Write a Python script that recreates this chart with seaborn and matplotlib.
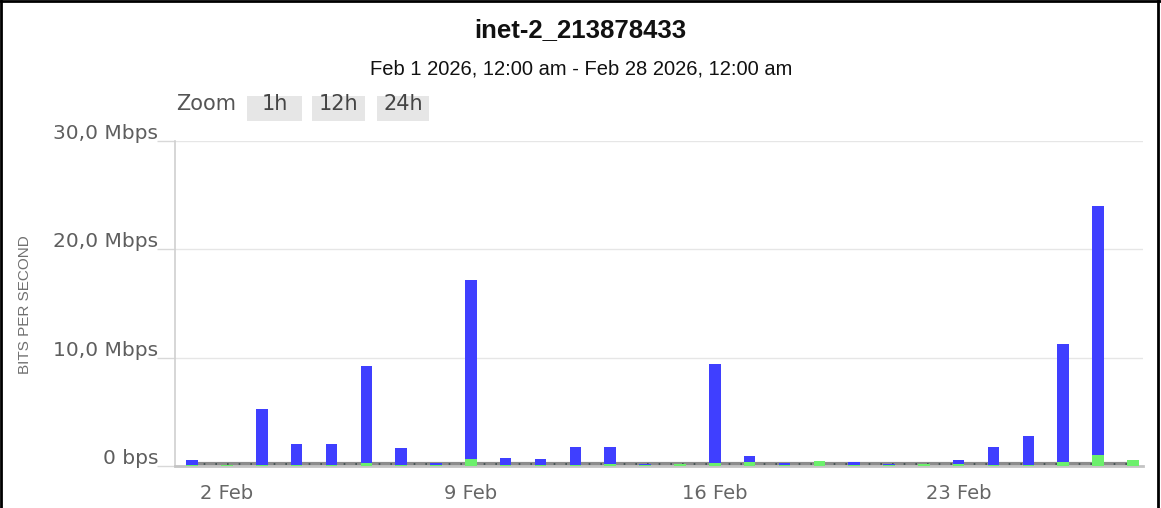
import matplotlib
matplotlib.use("Agg")
import matplotlib.pyplot as plt
import pandas as pd
import seaborn as sns
from matplotlib.patches import Rectangle
from matplotlib.lines import Line2D
from matplotlib.transforms import ScaledTranslation

# Daily traffic for February 2026 (Mbps)
days = list(range(1, 29))
outbound_mbps = [0.55, 0.1, 5.25, 2.0, 2.0, 9.2, 1.7, 0.25, 17.2, 0.75,
                 0.65, 1.8, 1.8, 0.15, 0.05, 9.4, 0.95, 0.3, 0.0, 0.35,
                 0.15, 0.0, 0.6, 1.75, 2.75, 11.3, 24.0, 0.0]
inbound_mbps = [0.1, 0.05, 0.1, 0.1, 0.1, 0.3, 0.1, 0.05, 0.65, 0.1,
                0.05, 0.1, 0.2, 0.05, 0.15, 0.3, 0.35, 0.1, 0.5, 0.1,
                0.05, 0.2, 0.2, 0.1, 0.1, 0.35, 1.05, 0.6]
baseline_mbps = [0.2, 0.2, 0.2, 0.2, 0.2, 0.2, 0.2, 0.2, 0.2, 0.2,
                 0.2, 0.2, 0.2, 0.2, 0.2, 0.2, 0.2, 0.2, 0.2, 0.2,
                 0.2, 0.2, 0.2, 0.2, 0.2, 0.2, 0.2, 0.2]

tick_days = [2, 9, 16, 23]
tick_labels = ["2 Feb", "9 Feb", "16 Feb", "23 Feb"]
y_ticks = [0, 10, 20, 30]
y_tick_labels = ["0 bps", "10,0 Mbps", "20,0 Mbps", "30,0 Mbps"]
title = "inet-2_213878433"
subtitle = "Feb 1 2026, 12:00 am - Feb 28 2026, 12:00 am"
zoom_buttons = ["1h", "12h", "24h"]

sns.set_theme(style="white")
plt.rcParams["font.family"] = ["DejaVu Sans"]

W, H = 1161, 508
fig = plt.figure(figsize=(W / 100, H / 100), dpi=100)
fig.patch.set_facecolor("white")


def fx(px):
    return px / W


def fy(py):
    return 1 - py / H


ax = fig.add_axes([fx(175), fy(466), fx(1143) - fx(175), fy(141) - fy(466)])

df = pd.DataFrame({"day": days, "out": outbound_mbps,
                   "in": inbound_mbps, "base": baseline_mbps})

# baseline trace along the bottom
sns.lineplot(data=df, x="day", y="base", ax=ax, color="#8c8c8c",
             linewidth=3, zorder=1)
sns.lineplot(data=df, x="day", y="base", ax=ax, color="#3a4a4a",
             linewidth=1.2, linestyle=(0, (1, 6)), zorder=1.5)

sns.barplot(data=df, x="day", y="out", native_scale=True, width=0.33,
            color="#3f3fff", saturation=1, ax=ax, zorder=2, linewidth=0)
sns.barplot(data=df, x="day", y="in", native_scale=True, width=0.33,
            color="#6cf06c", saturation=1, ax=ax, zorder=3, linewidth=0)

ax.set_xlim(0.51, 28.29)
ax.set_ylim(0, 30)
ax.set_xlabel("")
ax.set_ylabel("")

ax.set_xticks(tick_days)
ax.set_xticklabels(tick_labels, fontsize=14, color="#666666")
ax.tick_params(axis="x", length=0, pad=13)

ax.set_yticks(y_ticks)
ax.set_yticklabels(y_tick_labels, fontsize=14.5, color="#5e5e5e")
ax.tick_params(axis="y", length=13, width=1, color="#d8d8d8", pad=-1, left=True)
for lab in ax.get_yticklabels():
    lab.set_verticalalignment("bottom")
    lab.set_transform(lab.get_transform() + ScaledTranslation(0, -1.5 / 72, fig.dpi_scale_trans))

ax.grid(axis="y", color="#e6e6e6", linewidth=1)
ax.grid(axis="x", visible=False)
for s in ["top", "right"]:
    ax.spines[s].set_visible(False)
ax.spines["left"].set_color("#d0d0d0")
ax.spines["left"].set_linewidth(1.2)
ax.spines["bottom"].set_color("#c4c4c4")
ax.spines["bottom"].set_linewidth(2)
ax.set_axisbelow(True)

# axis title
fig.text(fx(25), fy(305), "BITS PER SECOND", rotation=90, ha="center", va="center",
         fontsize=11, color="#707070",
         family=["Liberation Sans Narrow", "Liberation Sans", "DejaVu Sans"])

# titles
fig.text(fx(580), fy(30), title, ha="center", va="center", fontsize=18.5,
         fontweight="bold", color="#111111", family=["Liberation Sans", "DejaVu Sans"])
fig.text(fx(581), fy(69), subtitle, ha="center", va="center", fontsize=14.5,
         color="#111111", family=["Liberation Sans", "DejaVu Sans"])

# range selector
fig.text(fx(176), fy(104), "Zoom", ha="left", va="center", fontsize=15,
         color="#555555")
button_spans = [(247, 302), (312, 365), (377, 429)]
for label, (x0, x1) in zip(zoom_buttons, button_spans):
    fig.patches.append(Rectangle((fx(x0), fy(121)), fx(x1) - fx(x0), fy(96) - fy(121),
                                 transform=fig.transFigure, facecolor="#e6e6e6",
                                 edgecolor="none", zorder=0))
    fig.text(fx((x0 + x1) / 2), fy(104), label, ha="center", va="center",
             fontsize=15, color="#444444")

# outer frame (left, top, right)
for xs, ys in [((fx(1), fx(1)), (0, 1)), ((0, 1), (fy(1), fy(1))),
               ((fx(1158), fx(1158)), (0, 1))]:
    fig.lines.append(Line2D(xs, ys, transform=fig.transFigure, color="black",
                            linewidth=2))

fig.savefig("out.png", dpi=100, facecolor="white")
